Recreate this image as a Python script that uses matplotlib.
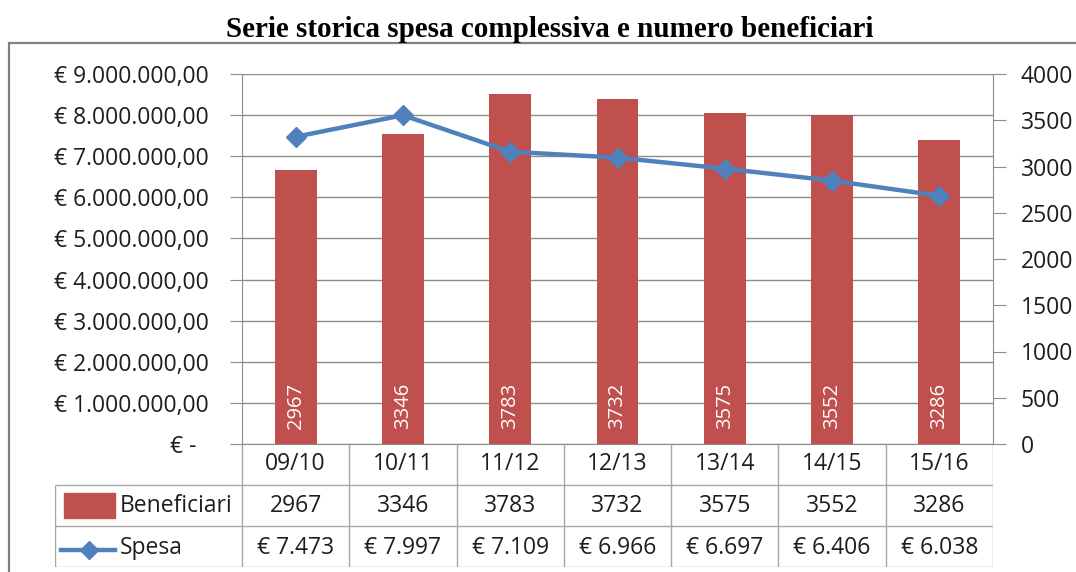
import matplotlib.pyplot as plt
from matplotlib.patches import Rectangle

# Data
anni = ["09/10", "10/11", "11/12", "12/13", "13/14", "14/15", "15/16"]
beneficiari = [2967, 3346, 3783, 3732, 3575, 3552, 3286]
spesa_migliaia = [7473, 7997, 7109, 6966, 6697, 6406, 6038]  # thousands of euro

red = "#C0504D"
blue = "#4F81BD"
grey = "#8C8C8C"
txt = "#1E1E1E"
W, H = 1076, 572

plt.rcParams["font.family"] = ["Open Sans", "DejaVu Sans"]

fig = plt.figure(figsize=(W / 100, H / 100), dpi=100)

# Outer frame
fig.add_artist(Rectangle((9 / W, -0.1), 1.2, 1 - 43 / H + 0.1, transform=fig.transFigure,
                         fill=False, edgecolor="#808080", lw=1.6))

fig.text(550 / W, 1 - 37 / H, "Serie storica spesa complessiva e numero beneficiari",
         ha="center", va="baseline", fontsize=21, fontweight="bold",
         family=["Liberation Serif", "DejaVu Serif"])

rect = [242 / W, 1 - 444 / H, (993 - 242) / W, (444 - 74) / H]
x = list(range(len(anni)))

# Base axes: left euro scale + grid
ax = fig.add_axes(rect)
ax.set_xlim(-0.5, len(anni) - 0.5)
ax.set_ylim(0, 9_000_000)
ax.set_yticks(range(0, 9_000_001, 1_000_000))


def euro(v, pos=None):
    if v == 0:
        return "€ -  "
    s = f"{v:,.2f}".replace(",", "X").replace(".", ",").replace("X", ".")
    return "€ " + s


ax.yaxis.set_major_formatter(plt.FuncFormatter(euro))
ax.grid(axis="y", color=grey, lw=1)
ax.set_xticks([])
ax.tick_params(axis="y", length=9, color=grey, pad=15, labelsize=16.5, labelcolor=txt)
for s in ["top", "right"]:
    ax.spines[s].set_visible(False)
for s in ["left", "bottom"]:
    ax.spines[s].set_color(grey)

# Bars on right scale
axb = ax.twinx()
axb.set_ylim(0, 4000)
axb.set_yticks(range(0, 4001, 500))
axb.bar(x, beneficiari, width=0.39, color=red)
axb.tick_params(axis="y", length=9, color=grey, pad=11, labelsize=16.5, labelcolor=txt)
for s in ["top", "left", "bottom"]:
    axb.spines[s].set_visible(False)
axb.spines["right"].set_color(grey)
for i, v in zip(x, beneficiari):
    axb.annotate(str(v), xy=(i, 0), xytext=(0, 11), textcoords="offset points",
                 rotation=90, ha="center", va="bottom", color="white", fontsize=14.5)

# Line on left scale, drawn on top
axl = ax.twinx()
axl.set_ylim(0, 9_000_000)
axl.set_xlim(-0.5, len(anni) - 0.5)
axl.axis("off")
axl.plot(x, [v * 1000 for v in spesa_migliaia], color=blue, lw=3.2, marker="D",
         markersize=10.5, markeredgecolor=blue)

# Data table underneath
col = (993 - 242) / len(anni)
left_cols = (242 - 55) / col
axt = fig.add_axes([55 / W, 1 - 567 / H, (993 - 55) / W, (567 - 444) / H])
axt.set_xlim(-0.5 - left_cols, len(anni) - 0.5)
axt.set_ylim(0, 3)
axt.axis("off")
lc = "#A6A6A6"
x0 = -0.5 - left_cols
axt.hlines([0, 1, 2], x0, len(anni) - 0.5, color=lc, lw=1)
axt.vlines([x0], 0, 2, color=lc, lw=1)
axt.vlines([i - 0.5 for i in range(len(anni) + 1)], 0, 3, color=lc, lw=1)

for i in x:
    axt.text(i, 2.5, anni[i], ha="center", va="center", fontsize=16.5, color=txt)
    axt.text(i, 1.5, str(beneficiari[i]), ha="center", va="center", fontsize=16.5, color=txt)
    axt.text(i, 0.47, "€ " + f"{spesa_migliaia[i]:,}".replace(",", "."), ha="center",
             va="center", fontsize=16.5, color=txt)

# Legend keys
axt.add_patch(Rectangle((x0 + 0.085, 1.2), 0.475, 0.6, color=red))
axt.plot([x0 + 0.055, x0 + 0.56], [0.42, 0.42], color=blue, lw=3.2)
axt.plot([x0 + 0.32], [0.42], marker="D", color=blue, markersize=9)
axt.text(x0 + 0.6, 1.5, "Beneficiari", ha="left", va="center", fontsize=16.5, color=txt)
axt.text(x0 + 0.6, 0.47, "Spesa", ha="left", va="center", fontsize=16.5, color=txt)

fig.savefig("out.png", dpi=100)
